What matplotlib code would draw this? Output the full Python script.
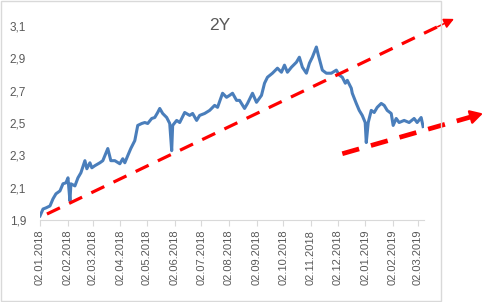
import numpy as np
import pandas as pd
import matplotlib
matplotlib.use('Agg')
import matplotlib.pyplot as plt
import matplotlib.dates as mdates
from matplotlib.patches import Rectangle

plt.rcParams['font.family'] = ['Liberation Sans', 'DejaVu Sans']

# 2Y yield (days since 02.01.2018, value)
days = [0, 3.4, 6.7, 11.2, 14.6, 17.9, 22.4, 25.8, 29.1, 31.4, 33.6, 34.7, 39.2, 42.6, 45.9,
        50.4, 52.6, 56, 58.2, 61.6, 67.2, 70.5, 76.1, 79.5, 84, 89.6, 92.9, 95.2, 98.5,
        101.9, 106.4, 109.7, 114.2, 117.6, 120.9, 125.4, 128.8, 132.1, 134.4, 137.7, 142.2,
        145.6, 147.8, 148.9, 153.4, 156.8, 162.4, 168, 171.3, 175.8, 179.2, 184.8, 190.4,
        196, 199.3, 204.9, 209.4, 212.8, 216.1, 220.6, 224, 229.6, 232.9, 238.5, 243, 248.6,
        252, 255.3, 260.9, 266.5, 271, 274.4, 277.7, 282.2, 287.8, 291.1, 294.5, 299, 302.4,
        305.7, 310.2, 312.4, 316.9, 321.4, 327, 332.6, 336, 339.3, 342.7, 344.9, 349.4,
        350.5, 355, 358.3, 361.7, 365, 366.2, 368.4, 371.8, 375.1, 378.5, 383, 386.3, 389.7,
        394.2, 396.4, 399.8, 403.1, 408.7, 414.3, 419.9, 423.3, 427.8, 430]
yields = [1.925, 1.968, 1.975, 1.987, 2.031, 2.062, 2.080, 2.124, 2.130, 2.161, 2.018, 2.124,
          2.111, 2.161, 2.192, 2.267, 2.217, 2.254, 2.223, 2.236, 2.254, 2.267, 2.342, 2.267,
          2.267, 2.248, 2.279, 2.254, 2.298, 2.342, 2.391, 2.485, 2.497, 2.503, 2.497, 2.528,
          2.534, 2.565, 2.590, 2.559, 2.534, 2.497, 2.329, 2.485, 2.516, 2.503, 2.565, 2.547,
          2.559, 2.516, 2.547, 2.559, 2.578, 2.609, 2.597, 2.684, 2.659, 2.671, 2.684, 2.640,
          2.640, 2.590, 2.621, 2.684, 2.628, 2.671, 2.746, 2.783, 2.808, 2.839, 2.814, 2.858,
          2.814, 2.845, 2.876, 2.907, 2.845, 2.808, 2.870, 2.907, 2.970, 2.920, 2.827, 2.808,
          2.808, 2.827, 2.796, 2.783, 2.746, 2.764, 2.715, 2.684, 2.621, 2.578, 2.547, 2.503,
          2.379, 2.503, 2.578, 2.565, 2.597, 2.621, 2.609, 2.578, 2.559, 2.485, 2.528, 2.503,
          2.516, 2.503, 2.528, 2.503, 2.534, 2.478]

# hand-drawn trend arrows (start / end as day offset and value)
trend_up_days = [7.8, 464.7]
trend_up_vals = [1.937, 3.144]
trend_low_days = [339.3, 497.2]
trend_low_vals = [2.31, 2.559]

tick_dates = pd.date_range('2018-01-01', '2019-03-01', freq='MS') + pd.Timedelta(days=1)
y_ticks = [1.9, 2.1, 2.3, 2.5, 2.7, 2.9, 3.1]

start = pd.Timestamp('2018-01-02')
dates = [start + pd.Timedelta(days=d) for d in days]

fig = plt.figure(figsize=(5.0, 3.02), dpi=100)
fig.patch.set_facecolor('white')
fig.patches.append(Rectangle((0.002, 0.003), 440 / 500, 0.993, transform=fig.transFigure,
                             fill=False, edgecolor='#d9d9d9', linewidth=1))

ax = fig.add_axes([0.08, 0.2715, 0.768, 1 - 26 / 302 - 0.2715])
ax.plot(dates, yields, color='#4a7ebb', linewidth=2.2, solid_joinstyle='round')


def trend(d, v, lw, dash, hl, hw):
    x = [mdates.date2num(start + pd.Timedelta(days=k)) for k in d]
    # stop the dashes a little before the tip, the head goes on top
    frac = 0.97
    xe = x[0] + (x[1] - x[0]) * frac
    ve = v[0] + (v[1] - v[0]) * frac
    ax.plot([x[0], xe], [v[0], ve], color='#ff0000', linewidth=lw, dashes=dash,
            clip_on=False, solid_capstyle='butt', dash_capstyle='butt')
    ax.annotate('', xy=(x[1], v[1]), xytext=(xe - (x[1] - x[0]) * 0.01, ve - (v[1] - v[0]) * 0.01),
                annotation_clip=False,
                arrowprops=dict(arrowstyle='-|>,head_length=%g,head_width=%g' % (hl, hw),
                                color='#ff0000', linewidth=lw * 0.5, shrinkA=0, shrinkB=0))


trend(trend_up_days, trend_up_vals, 2.3, (4.5, 3.2), 0.6, 0.3)
trend(trend_low_days, trend_low_vals, 3.4, (3.7, 2.6), 0.75, 0.42)

ax.set_ylim(1.9, 3.1)
ax.set_xlim(start, start + pd.Timedelta(days=431))
ax.set_yticks(y_ticks)
ax.set_yticklabels([('%.1f' % v).replace('.', ',') for v in y_ticks])
ax.set_xticks(tick_dates)
ax.xaxis.set_major_formatter(mdates.DateFormatter('%d.%m.%Y'))
for lbl in ax.get_xticklabels():
    lbl.set_rotation(90)

ax.tick_params(axis='y', length=0, pad=10, labelsize=8.5, labelcolor='#595959')
ax.tick_params(axis='x', length=4, width=0.8, color='#d9d9d9', pad=3, labelsize=8,
               labelcolor='#595959')
for s in ['top', 'right', 'left']:
    ax.spines[s].set_visible(False)
ax.spines['bottom'].set_color('#d9d9d9')

fig.text(0.44, 1 - 26 / 302, '2Y', ha='center', va='center', fontsize=12.5, color='#595959')

fig.savefig('out.png', dpi=100)
